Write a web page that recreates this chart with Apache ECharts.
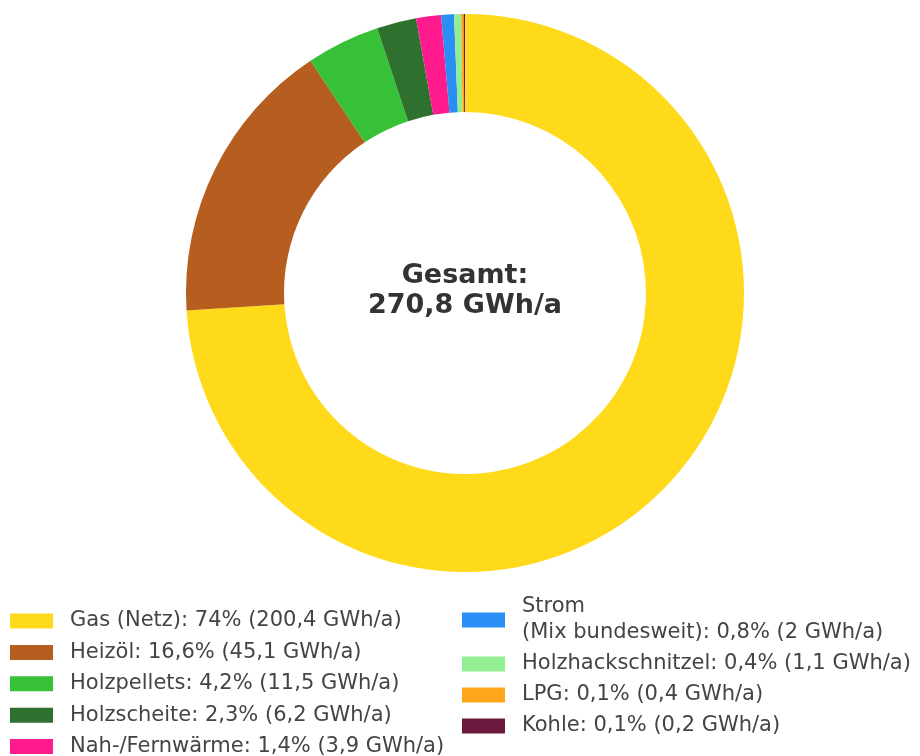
<!DOCTYPE html>
<html lang="de">
<head>
    <meta charset="UTF-8">
    <title>Endenergie Wärme</title>
    <script src="https://cdn.jsdelivr.net/npm/echarts@6/dist/echarts.min.js"></script>
    <style>
        html, body { margin: 0; padding: 0; background: #fff; }
        #chart { width: 920px; height: 756px; }
    </style>
</head>
<body>
<div id="chart"></div>
<script>
    // Daten
    var names = ['Gas (Netz)', 'Heizöl', 'Holzpellets', 'Holzscheite', 'Nah-/Fernwärme',
        'Strom\n(Mix bundesweit)', 'Holzhackschnitzel', 'LPG', 'Kohle'];
    var values = [200.4, 45.1, 11.5, 6.2, 3.9, 2, 1.1, 0.4, 0.2];
    var shares = ['74', '16,6', '4,2', '2,3', '1,4', '0,8', '0,4', '0,1', '0,1'];
    var colors = ['#FFDA1B', '#B55E1F', '#37C137', '#2E702E', '#FF1B8D',
        '#2A8FF5', '#92EE92', '#FFA61A', '#6B1A3E'];
    var total = '270,8';

    var pieData = [];
    var labelMap = {};
    for (var i = 0; i < names.length; i++) {
        pieData.push({ name: names[i], value: values[i], itemStyle: { color: colors[i] } });
        labelMap[names[i]] = names[i] + ': ' + shares[i] + '% (' + String(values[i]).replace('.', ',') + ' GWh/a)';
    }

    var legendText = {
        fontFamily: 'DejaVu Sans',
        fontSize: 21,
        lineHeight: 26,
        color: '#444',
        padding: [0, 0, 0, 12]
    };

    var chart = echarts.init(document.getElementById('chart'));
    var option = {
        animation: false,
        graphic: [
            {
                type: 'text',
                x: 465,
                y: 291,
                style: {
                    text: 'Gesamt:\n' + total + ' GWh/a',
                    align: 'center',
                    verticalAlign: 'middle',
                    fontFamily: 'DejaVu Sans',
                    fontWeight: 'bold',
                    fontSize: 27,
                    lineHeight: 30,
                    fill: '#333'
                }
            }
        ],
        legend: [
            {
                orient: 'vertical',
                left: 5,
                top: 603,
                height: 200,
                itemWidth: 43,
                itemHeight: 15,
                itemGap: 5.4,
                icon: 'rect',
                selectedMode: false,
                data: names.slice(0, 5),
                formatter: function (n) { return labelMap[n]; },
                textStyle: legendText
            },
            {
                orient: 'vertical',
                left: 457,
                top: 589,
                height: 200,
                itemWidth: 43,
                itemHeight: 15,
                itemGap: 5,
                icon: 'rect',
                selectedMode: false,
                data: names.slice(5),
                formatter: function (n) { return labelMap[n]; },
                textStyle: legendText
            }
        ],
        series: [
            {
                type: 'pie',
                center: [465, 293],
                radius: [181, 279],
                startAngle: 90,
                clockwise: true,
                label: { show: false },
                labelLine: { show: false },
                emphasis: { disabled: true },
                itemStyle: { borderWidth: 0 },
                data: pieData
            }
        ]
    };
    chart.setOption(option);
</script>
</body>
</html>
